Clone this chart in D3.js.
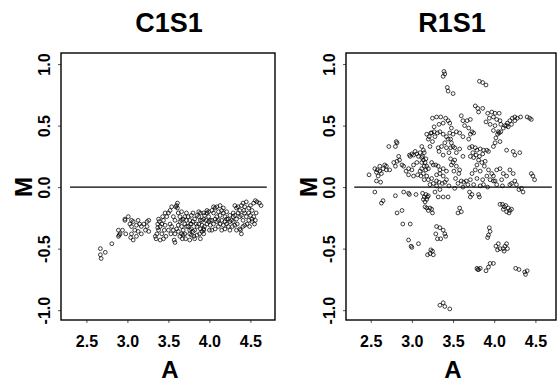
<!DOCTYPE html>
<html>
<head>
<meta charset="utf-8">
<script src="https://cdn.jsdelivr.net/npm/d3@7"></script>
<style>
  body { margin: 0; background: #fff; }
  svg { display: block; font-family: "Liberation Sans", Arial, sans-serif; }
</style>
</head>
<body>
<div id="chart"></div>
<script>
// A (x) and M (y) values
const c1s1 = [
  [2.67,-0.50],[2.67,-0.55],[2.68,-0.58],[2.73,-0.53],[2.81,-0.46],
  [2.89,-0.35],[2.91,-0.38],[2.89,-0.40],[2.94,-0.35],[2.98,-0.38],[2.97,-0.27],
  [2.97,-0.26],[3.01,-0.24],[3.05,-0.27],[3.03,-0.30],[3.07,-0.28],[3.05,-0.32],[3.09,-0.35],[3.05,-0.38],[3.07,-0.43],
  [3.11,-0.31],[3.13,-0.27],[3.15,-0.30],[3.17,-0.32],[3.20,-0.30],[3.24,-0.28],[3.26,-0.27],[3.24,-0.32],[3.22,-0.35],
  [3.26,-0.36],[3.17,-0.38],[3.13,-0.36],[3.11,-0.40],[3.04,-0.41],[2.90,-0.39],
  [3.36,-0.38],[3.35,-0.42],[3.38,-0.35],[3.40,-0.32],[3.39,-0.28],[3.42,-0.30],[3.44,-0.27],[3.42,-0.38],[3.45,-0.35],
  [3.40,-0.43],[3.44,-0.42],[3.47,-0.40],[3.46,-0.31],[3.48,-0.24],[3.46,-0.21],[3.43,-0.24],[3.37,-0.30],[3.38,-0.26],
  [3.34,-0.40],[3.37,-0.33],
  [3.50,-0.21],[3.52,-0.19],[3.54,-0.16],[3.56,-0.24],[3.58,-0.27],[3.60,-0.15],[3.61,-0.17],[3.62,-0.21],[3.64,-0.24],
  [3.52,-0.30],[3.54,-0.32],[3.56,-0.35],[3.58,-0.38],[3.60,-0.34],[3.62,-0.31],[3.64,-0.28],[3.66,-0.32],[3.68,-0.35],
  [3.70,-0.38],[3.66,-0.27],[3.68,-0.26],[3.70,-0.30],[3.72,-0.32],[3.50,-0.35],[3.53,-0.38],[3.57,-0.43],[3.64,-0.40],
  [3.67,-0.42],[3.71,-0.42],[3.61,-0.13],[3.59,-0.16],[3.66,-0.20],[3.72,-0.21],[3.70,-0.24],[3.72,-0.27],[3.66,-0.38],
  [3.62,-0.36],[3.68,-0.39],[3.58,-0.45],
  [3.74,-0.24],[3.76,-0.27],[3.78,-0.30],[3.80,-0.28],[3.82,-0.26],[3.85,-0.23],[3.87,-0.24],[3.89,-0.21],[3.91,-0.27],
  [3.93,-0.26],[3.94,-0.23],[3.97,-0.21],[3.99,-0.24],[4.01,-0.27],[3.74,-0.32],[3.76,-0.35],[3.78,-0.34],[3.80,-0.36],
  [3.82,-0.35],[3.85,-0.32],[3.87,-0.30],[3.89,-0.34],[3.91,-0.31],[3.93,-0.35],[3.94,-0.32],[3.97,-0.30],[3.99,-0.28],
  [4.01,-0.31],[3.76,-0.38],[3.78,-0.39],[3.81,-0.40],[3.85,-0.39],[3.88,-0.38],[3.91,-0.36],[3.93,-0.38],[3.76,-0.43],
  [3.82,-0.42],[3.89,-0.42],[3.93,-0.34],[3.80,-0.21],[3.87,-0.20],[3.93,-0.21],[3.97,-0.19],[3.99,-0.20],[3.78,-0.23],
  [3.77,-0.30],[3.84,-0.30],[3.89,-0.27],[3.96,-0.27],[4.00,-0.35],
  [4.03,-0.19],[4.05,-0.21],[4.07,-0.17],[4.09,-0.16],[4.11,-0.20],[4.13,-0.23],[4.15,-0.19],[4.17,-0.21],[4.19,-0.24],
  [4.21,-0.20],[4.23,-0.26],[4.25,-0.23],[4.27,-0.27],[4.29,-0.24],[4.03,-0.27],[4.05,-0.30],[4.07,-0.26],[4.09,-0.28],
  [4.11,-0.27],[4.13,-0.30],[4.15,-0.27],[4.17,-0.31],[4.19,-0.28],[4.21,-0.30],[4.23,-0.32],[4.25,-0.28],[4.03,-0.35],
  [4.07,-0.34],[4.11,-0.32],[4.15,-0.35],[4.19,-0.34],[4.05,-0.16],[4.13,-0.15],[4.17,-0.17],[4.09,-0.24],[4.21,-0.26],
  [4.25,-0.35],[4.28,-0.32],
  [4.31,-0.15],[4.33,-0.17],[4.35,-0.16],[4.37,-0.19],[4.39,-0.15],[4.41,-0.13],[4.43,-0.16],[4.45,-0.12],[4.48,-0.17],
  [4.50,-0.15],[4.52,-0.19],[4.54,-0.13],[4.56,-0.11],[4.58,-0.12],[4.61,-0.13],[4.63,-0.15],[4.31,-0.23],[4.33,-0.26],
  [4.35,-0.21],[4.37,-0.24],[4.39,-0.23],[4.41,-0.27],[4.43,-0.21],[4.45,-0.24],[4.48,-0.27],[4.50,-0.23],[4.52,-0.26],
  [4.54,-0.24],[4.56,-0.27],[4.57,-0.21],[4.31,-0.31],[4.34,-0.30],[4.37,-0.34],[4.38,-0.35],[4.41,-0.32],[4.43,-0.31],
  [4.46,-0.30],[4.49,-0.32],[4.52,-0.28],[4.55,-0.30],[4.33,-0.35],[4.39,-0.38],[4.29,-0.21],[4.29,-0.28],[4.42,-0.19],
  [4.48,-0.21]
];

const r1s1 = [
  [3.39,0.94],[3.40,0.92],[3.38,0.90],[3.43,0.81],[3.44,0.78],[3.50,0.76],
  [3.82,0.86],[3.86,0.85],[3.90,0.83],[3.77,0.66],[3.80,0.64],[3.86,0.64],[3.81,0.61],
  [3.25,0.56],[3.30,0.57],[3.35,0.57],[3.41,0.56],[3.44,0.54],[3.27,0.49],[3.33,0.51],[3.38,0.52],[3.46,0.52],[3.48,0.48],
  [3.60,0.58],[3.62,0.54],[3.67,0.54],[3.71,0.55],[3.64,0.50],[3.69,0.48],[3.73,0.45],[3.58,0.44],[3.62,0.41],[3.71,0.43],
  [3.75,0.44],[3.69,0.39],
  [3.92,0.60],[3.97,0.61],[4.01,0.60],[4.06,0.60],[3.94,0.56],[3.99,0.57],[4.03,0.55],[4.07,0.54],[3.95,0.51],[4.01,0.50],
  [4.08,0.51],[4.11,0.48],[4.15,0.50],[3.99,0.46],[4.05,0.45],[3.90,0.53],
  [4.02,0.40],[4.04,0.43],[4.06,0.44],[4.08,0.45],[4.13,0.50],[4.16,0.52],[4.19,0.54],[4.22,0.56],[4.25,0.57],[4.28,0.56],
  [4.25,0.54],[4.21,0.51],[4.17,0.49],[4.07,0.37],[4.01,0.36],[3.99,0.33],
  [4.40,0.57],[4.43,0.56],[4.45,0.55],[4.32,0.57],
  [3.22,0.33],[3.25,0.37],[3.28,0.41],[3.31,0.44],[3.34,0.45],[3.38,0.43],[3.42,0.41],[3.46,0.44],[3.44,0.39],[3.48,0.36],
  [3.40,0.36],[3.36,0.33],[3.32,0.32],[3.42,0.32],[3.47,0.32],[3.50,0.33],[3.45,0.28],[3.38,0.26],[3.33,0.29],[3.24,0.44],
  [3.27,0.45],
  [2.72,0.33],[2.80,0.33],[2.81,0.37],[2.82,0.36],
  [2.48,0.10],[2.55,0.15],[2.58,0.14],[2.61,0.13],[2.63,0.11],[2.57,0.12],[2.65,0.15],[2.67,0.18],[2.69,0.17],[2.61,0.17],
  [2.59,0.09],[2.57,0.05],[2.62,0.04],[2.69,0.14],[2.73,0.14],[2.78,0.20],[2.80,0.17],[2.82,0.21],[2.84,0.25],[2.85,0.22],
  [2.88,0.18],[2.90,0.17],[2.93,0.13],[2.96,0.15],[2.97,0.26],[2.98,0.25],[3.00,0.27],[3.02,0.26],[3.04,0.29],[3.06,0.27],
  [3.08,0.25],[3.10,0.28],[3.12,0.24],[3.14,0.22],[3.16,0.20],[3.18,0.17],[3.20,0.15],[3.06,0.20],[3.02,0.18],[3.00,0.14],
  [2.96,0.10],[3.02,0.09],[3.07,0.10],[3.10,0.13],[3.12,0.15],[3.14,0.11],[3.18,0.09],[3.20,0.06],[3.24,0.07],[3.30,0.10],
  [3.34,0.14],[3.26,0.18],[3.24,0.20],[3.29,0.18],[3.32,0.17],[3.38,0.15],[3.42,0.13],[3.34,0.11],[3.38,0.09],[3.42,0.06],
  [3.30,0.05],[3.26,0.03],[3.22,0.02],
  [3.12,0.33],[3.14,0.30],[3.15,0.28],[3.13,0.25],[3.17,0.23],[3.12,0.20],[3.15,0.17],[3.17,0.14],[3.11,0.09],[3.15,0.06],
  [3.20,0.39],[3.21,0.41],[3.18,0.43],[3.23,0.44],
  [3.30,0.01],[3.37,0.03],[3.40,0.04],[3.33,0.04],
  [3.47,0.23],[3.50,0.20],[3.52,0.22],[3.48,0.18],[3.54,0.17],[3.51,0.13],[3.57,0.11],[3.58,0.14],[3.53,0.07],[3.60,0.05],
  [3.56,0.03],[3.63,0.04],[3.66,0.05],
  [3.54,0.28],[3.58,0.31],[3.62,0.25],[3.52,0.32],[3.50,0.43],[3.54,0.45],[3.47,0.39],
  [3.70,0.32],[3.73,0.33],[3.77,0.32],[3.79,0.30],[3.83,0.31],[3.87,0.30],[3.91,0.30],[3.74,0.28],[3.78,0.26],[3.82,0.25],
  [3.86,0.27],[3.75,0.24],[3.81,0.22],[3.85,0.20],[3.89,0.21],[3.93,0.29],[3.71,0.25],[3.79,0.18],[3.88,0.17],[3.73,0.11],
  [3.77,0.14],[3.83,0.13],[3.91,0.09],[3.79,0.07],[3.86,0.06],[3.71,0.06],
  [4.15,0.30],[4.23,0.29],[4.25,0.26],[4.31,0.28],[4.03,0.14],[4.07,0.15],[4.11,0.11],[4.09,0.06],[4.15,0.09],[4.19,0.14],
  [4.23,0.11],[4.25,0.05],[4.21,0.03],[3.99,0.09],[3.99,0.05],[4.03,0.02],[4.45,0.11],[4.47,0.09],[4.49,0.06],[4.33,-0.01],
  [4.35,-0.04],[4.30,-0.02],[4.19,0.02],
  [3.93,0.14],[3.97,0.11],[3.95,0.06],[4.01,0.05],[3.87,0.02],[3.83,0.01],
  [3.45,0.01],[3.52,-0.01],[3.62,0.00],[3.68,0.02],[3.75,0.02],[3.92,0.00],[4.10,0.01],[4.27,0.02],
  [2.55,-0.04],[2.80,-0.07],[2.90,-0.04],[2.96,-0.05],[2.97,-0.06],[3.05,-0.06],[2.65,-0.11],[2.63,-0.13],
  [2.82,-0.21],[2.88,-0.19],[2.89,-0.30],[2.98,-0.30],
  [3.13,-0.05],[3.15,-0.08],[3.17,-0.06],[3.19,-0.08],[3.14,-0.10],[3.16,-0.12],[3.20,-0.07],[3.18,-0.10],[3.16,-0.16],
  [3.18,-0.17],[3.22,-0.17],[3.24,-0.18],[3.20,-0.19],[3.25,-0.21],
  [3.32,-0.08],[3.38,-0.08],[3.44,-0.08],[3.28,-0.04],[3.34,-0.02],
  [3.58,-0.17],[3.60,-0.20],[3.56,-0.21],
  [3.70,-0.04],[3.73,-0.06],[3.81,-0.06],[3.82,-0.08],[3.71,-0.08],
  [4.07,-0.14],[4.10,-0.14],[4.12,-0.16],[4.14,-0.15],[4.17,-0.17],[4.19,-0.19],[4.21,-0.18],[4.11,-0.18],[4.15,-0.20],[4.18,-0.21],
  [3.30,-0.32],[3.34,-0.33],[3.38,-0.35],[3.40,-0.38],[3.31,-0.42],[3.35,-0.42],[3.41,-0.40],[3.29,-0.38],
  [2.96,-0.43],[2.99,-0.48],[3.00,-0.49],[3.08,-0.46],
  [3.19,-0.55],[3.23,-0.51],[3.25,-0.52],[3.26,-0.55],[3.22,-0.54],
  [3.94,-0.33],[3.95,-0.36],[3.93,-0.39],[3.92,-0.41],
  [4.02,-0.48],[4.05,-0.46],[4.04,-0.51],[4.11,-0.50],[4.13,-0.48],[4.15,-0.46],[4.16,-0.50],[4.12,-0.52],[4.07,-0.50],
  [3.79,-0.66],[3.81,-0.67],[3.83,-0.66],[3.80,-0.67],
  [3.90,-0.68],[3.93,-0.65],[3.95,-0.62],[3.99,-0.62],
  [4.26,-0.66],[4.30,-0.67],[4.37,-0.69],[4.38,-0.71],[4.40,-0.68],
  [3.34,-0.96],[3.38,-0.94],[3.40,-0.97],[3.46,-0.99]
];

const panelTitles = ['C1S1', 'R1S1'];
const xTicks = [2.5, 3.0, 3.5, 4.0, 4.5];
const yTicks = [-1.0, -0.5, 0.0, 0.5, 1.0];
const refLineA = [2.3, 4.7];   // extent of the M = 0 line

const width = 557, height = 385;
const plotTop = 53, plotBottom = 320;

const panels = [
  { title: panelTitles[0], data: c1s1, left: 61, right: 275, xDomain: [2.19, 4.80] },
  { title: panelTitles[1], data: r1s1, left: 346, right: 556, xDomain: [2.20, 4.75] }
];

const svg = d3.select('#chart')
  .append('svg')
  .attr('width', width)
  .attr('height', height);

const y = d3.scaleLinear().domain([-1.08, 1.09]).range([plotBottom, plotTop]);

panels.forEach(p => {
  const x = d3.scaleLinear().domain(p.xDomain).range([p.left, p.right]);
  const cx = (p.left + p.right) / 2;
  const g = svg.append('g');

  // title
  g.append('text')
    .attr('x', cx + 1)
    .attr('y', 32)
    .attr('text-anchor', 'middle')
    .attr('font-size', 27)
    .attr('font-weight', 'bold')
    .text(p.title);

  // x axis
  const xAxis = g.append('g')
    .attr('transform', `translate(0,${plotBottom})`)
    .call(d3.axisBottom(x).tickValues(xTicks).tickSize(3).tickPadding(13).tickFormat(d => d.toFixed(1)));
  xAxis.select('.domain').remove();
  xAxis.selectAll('line').attr('stroke', '#555');
  xAxis.selectAll('text')
    .attr('font-size', 16)
    .attr('font-weight', 'bold')
    .attr('font-family', '"Liberation Sans", Arial, sans-serif')
    .attr('fill', '#000');

  // y axis with rotated labels
  const yAxis = g.append('g')
    .attr('transform', `translate(${p.left},0)`)
    .call(d3.axisLeft(y).tickValues(yTicks).tickSize(3).tickFormat(d => d.toFixed(1)));
  yAxis.select('.domain').remove();
  yAxis.selectAll('line').attr('stroke', '#555');
  yAxis.selectAll('text')
    .attr('x', null)
    .attr('dy', null)
    .attr('transform', 'translate(-11,0) rotate(-90)')
    .attr('text-anchor', 'middle')
    .attr('font-size', 16)
    .attr('font-weight', 'bold')
    .attr('font-family', '"Liberation Sans", Arial, sans-serif')
    .attr('fill', '#000');

  // axis titles
  g.append('text')
    .attr('x', cx + 2)
    .attr('y', 378)
    .attr('text-anchor', 'middle')
    .attr('font-size', 24)
    .attr('font-weight', 'bold')
    .text('A');

  g.append('text')
    .attr('transform', `translate(${p.left - 29},${y(0)}) rotate(-90)`)
    .attr('text-anchor', 'middle')
    .attr('font-size', 24)
    .attr('font-weight', 'bold')
    .text('M');

  // zero line
  g.append('line')
    .attr('x1', x(refLineA[0]))
    .attr('x2', x(refLineA[1]))
    .attr('y1', y(0))
    .attr('y2', y(0))
    .attr('stroke', '#000')
    .attr('stroke-width', 1.2);

  // points
  g.append('g')
    .selectAll('circle')
    .data(p.data)
    .join('circle')
    .attr('cx', d => x(d[0]))
    .attr('cy', d => y(d[1]))
    .attr('r', 1.9)
    .attr('fill', 'none')
    .attr('stroke', '#000')
    .attr('stroke-width', 0.75);

  // frame
  g.append('rect')
    .attr('x', p.left)
    .attr('y', plotTop)
    .attr('width', p.right - p.left)
    .attr('height', plotBottom - plotTop)
    .attr('fill', 'none')
    .attr('stroke', '#000')
    .attr('stroke-width', 1.4);
});
</script>
</body>
</html>
